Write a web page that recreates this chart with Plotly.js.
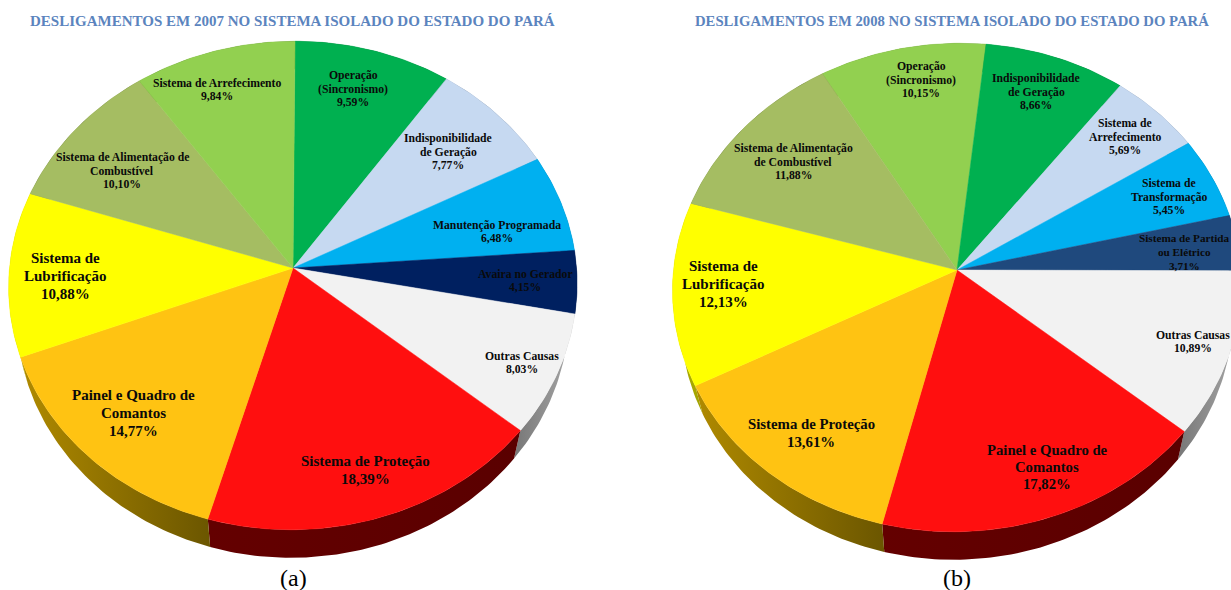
<!DOCTYPE html>
<html>
<head>
<meta charset="utf-8">
<script src="https://cdn.plot.ly/plotly-3.0.1.min.js"></script>
<style>html,body{margin:0;padding:0;background:#fff;overflow:hidden}#chart{width:1231px;height:590px}</style>
</head>
<body>
<div id="chart"></div>
<script>
// Shutdown causes, in clockwise order, for each year
const categories2007 = ["Operação<br>(Sincronismo)", "Indisponibilidade<br>de Geração", "Manutenção Programada", "Avaira no Gerador", "Outras Causas", "Sistema de Proteção", "Painel e Quadro de<br>Comantos", "Sistema de<br>Lubrificação", "Sistema de Alimentação de<br>Combustível", "Sistema de Arrefecimento"];
const values2007 = [9.59, 7.77, 6.48, 4.15, 8.03, 18.39, 14.77, 10.88, 10.10, 9.84];

const categories2008 = ["Operação<br>(Sincronismo)", "Indisponibilidade<br>de Geração", "Sistema de<br>Arrefecimento", "Sistema de<br>Transformação", "Sistema de Partida<br>ou Elétrico", "Outras Causas", "Painel e Quadro de<br>Comantos", "Sistema de Proteção", "Sistema de<br>Lubrificação", "Sistema de Alimentação<br>de Combustível"];
const values2008 = [10.15, 8.66, 5.69, 5.45, 3.71, 10.89, 17.82, 13.61, 12.13, 11.88];

// Slice colours
const colors2007 = ["#00B050", "#C6D9F1", "#00B0F0", "#002060", "#F2F2F2", "#FF0F0F", "#FFC312", "#FFFF00", "#A5BD62", "#92D050"];
const colors2008 = ["#92D050", "#00B050", "#C6D9F1", "#00B0F0", "#1F497D", "#F2F2F2", "#FF0F0F", "#FFC312", "#FFFF00", "#A5BD62"];

// Side-wall shading, [left colour, right colour]
const walls2007 = [["#005828", "#005828"], ["#636D79", "#636D79"], ["#005878", "#005878"], ["#001030", "#001030"], ["#777777", "#A8A8A8"], ["#640000", "#5A0000"], ["#B08A00", "#6B5600"], ["#B5B500", "#A0A000"], ["#525E31", "#525E31"], ["#496828", "#496828"]];
const walls2008 = [["#496828", "#496828"], ["#005828", "#005828"], ["#636D79", "#636D79"], ["#005878", "#005878"], ["#0F243E", "#0F243E"], ["#777777", "#A8A8A8"], ["#640000", "#5A0000"], ["#B08A00", "#6B5600"], ["#B5B500", "#A0A000"], ["#525E31", "#525E31"]];

// Label anchors and font sizes, one per slice
const labelAt2007 = [[353, 89], [448, 152], [497, 232], [525, 281], [522, 363], [365, 470], [133, 413], [65, 276], [122, 171], [217, 90]];
const labelSize2007 = [11.7, 11.7, 11.7, 11.7, 11.7, 15, 15, 15, 11.7, 11.7];
const labelAt2008 = [[921, 80], [1036, 92], [1125, 137], [1169, 197], [1184, 252], [1193, 342], [1047, 467], [811, 433], [723, 284], [793, 162]];
const labelSize2008 = [11.7, 11.7, 11.7, 11.7, 11.2, 11.7, 14.7, 14.8, 15, 11.7];

// Perspective disc: radii, tilt, wall depth and how much the lower rim narrows
const view = {rx: 283.5, ry: 243, tilt: 0.0716, depth: 28, rimScale: 0.972};
const pie2007 = {title: "DESLIGAMENTOS EM 2007 NO SISTEMA ISOLADO DO ESTADO DO PARÁ", titleAt: [292, 20.5], titleSize: 15, caption: "(a)", captionX: 293.5, cx: 293, cy: 268, shear: 2, start: 0};
const pie2008 = {title: "DESLIGAMENTOS EM 2008 NO SISTEMA ISOLADO DO ESTADO DO PARÁ", titleAt: [951.5, 21], titleSize: 14.7, caption: "(b)", captionX: 957, cx: 957, cy: 270, shear: 3.5, start: -31.0};

// Project an angle (degrees clockwise from 12 o'clock) onto the tilted disc
function project(p, deg) {
  const t = deg * Math.PI / 180, u = Math.sin(t), v = -Math.cos(t), w = 1 - view.tilt * v;
  return [p.cx + view.rx * u / w - p.shear * v, p.cy + view.ry * v / w];
}

function arc(p, a0, a1) {
  const n = Math.max(2, Math.ceil(Math.abs(a1 - a0)));
  const pts = [];
  for (let i = 0; i <= n; i++) pts.push(project(p, a0 + (a1 - a0) * i / n));
  return pts;
}

function buildPie(p, cats, vals, cols, walls) {
  const total = vals.reduce((s, v) => s + v, 0);
  const wallTraces = [], topTraces = [];
  let a = p.start;
  vals.forEach((val, i) => {
    const a1 = a + val / total * 360;
    const edge = arc(p, a, a1);
    const name = cats[i].replace("<br>", " ");

    // Side wall: the rim arc extruded downward, narrowing toward the lower face
    const back = edge.slice().reverse().map(q => [p.cx + (q[0] - p.cx) * view.rimScale, q[1] + view.depth]);
    const ring = edge.concat(back);
    ring.push(edge[0]);
    wallTraces.push({
      type: "scatter", mode: "lines", name: name + " (lateral)", showlegend: false, hoverinfo: "skip",
      x: ring.map(q => q[0]), y: ring.map(q => q[1]),
      line: {width: 0}, fill: "toself",
      fillgradient: {type: "horizontal", colorscale: [[0, walls[i][0]], [1, walls[i][1]]]}
    });

    // Top face of the slice
    const poly = [[p.cx, p.cy]].concat(edge, [[p.cx, p.cy]]);
    topTraces.push({
      type: "scatter", mode: "lines", name: name, showlegend: false, hoverinfo: "skip",
      x: poly.map(q => q[0]), y: poly.map(q => q[1]),
      line: {width: 0.5, color: cols[i]}, fill: "toself", fillcolor: cols[i]
    });
    a = a1;
  });
  return wallTraces.concat(topTraces);
}

const percent = v => v.toFixed(2).replace(".", ",") + "%";

// Each label line is its own annotation so the leading can stay tight
function sliceLabels(cats, vals, at, sizes) {
  const out = [];
  cats.forEach((c, i) => {
    const lines = c.split("<br>").concat(percent(vals[i]));
    const gap = Math.max(sizes[i], 11.7) * 1.18;
    lines.forEach((line, k) => out.push({
      text: line,
      x: at[i][0], y: at[i][1] + (k - (lines.length - 1) / 2) * gap, xref: "x", yref: "y",
      showarrow: false, xanchor: "center", yanchor: "middle", align: "center",
      font: {family: "'Liberation Serif', serif", size: sizes[i], color: "#0a0a0a", weight: 700}
    }));
  });
  return out;
}

function heading(p) {
  return [{
    text: p.title, x: p.titleAt[0], y: p.titleAt[1], xref: "x", yref: "y",
    showarrow: false, xanchor: "center", yanchor: "middle",
    font: {family: "'Liberation Serif', serif", size: p.titleSize, color: "#5B84BE", weight: 700}
  }, {
    text: p.caption, x: p.captionX, y: 578, xref: "x", yref: "y",
    showarrow: false, xanchor: "center", yanchor: "middle",
    font: {family: "'Liberation Serif', serif", size: 24, color: "#000"}
  }];
}

const traces = buildPie(pie2007, categories2007, values2007, colors2007, walls2007)
  .concat(buildPie(pie2008, categories2008, values2008, colors2008, walls2008));

const layout = {
  width: 1231, height: 590,
  margin: {l: 0, r: 0, t: 0, b: 0},
  paper_bgcolor: "#fff", plot_bgcolor: "#fff",
  showlegend: false,
  xaxis: {range: [0, 1231], visible: false, fixedrange: true},
  yaxis: {range: [590, 0], visible: false, fixedrange: true},
  annotations: [].concat(
    heading(pie2007), heading(pie2008),
    sliceLabels(categories2007, values2007, labelAt2007, labelSize2007),
    sliceLabels(categories2008, values2008, labelAt2008, labelSize2008)
  )
};

Plotly.newPlot("chart", traces, layout, {displayModeBar: false, staticPlot: true});
</script>
</body>
</html>
